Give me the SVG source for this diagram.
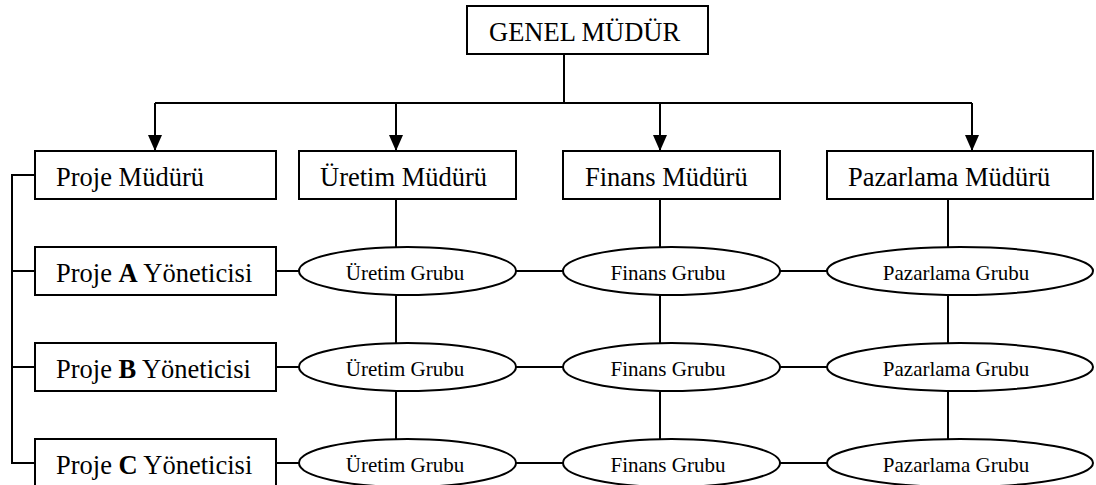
<svg xmlns="http://www.w3.org/2000/svg" width="1096" height="485" viewBox="0 0 1096 485">
<style>
.b{fill:#fff;stroke:#000;stroke-width:2}
.t{font-family:"Liberation Serif","Times New Roman",serif;font-size:26.5px;fill:#000}
.g{font-family:"Liberation Serif","Times New Roman",serif;font-size:21px;fill:#000;text-anchor:middle}
.c{fill:none;stroke:#000;stroke-width:2}
</style>
<defs>
<marker id="ah" markerUnits="userSpaceOnUse" markerWidth="16" markerHeight="14" refX="16" refY="7" orient="auto" viewBox="0 0 16 14">
<path d="M0,0 L16,7 L0,14 Z" fill="#000"/>
</marker>
</defs>
<rect width="1096" height="485" fill="#fff"/>
<g id="connectors">
<path class="c" d="M564,54 V103 M155,103 H972"/>
<path class="c" d="M155,103 V151" marker-end="url(#ah)"/>
<path class="c" d="M396,103 V151" marker-end="url(#ah)"/>
<path class="c" d="M660,103 V151" marker-end="url(#ah)"/>
<path class="c" d="M972,103 V151" marker-end="url(#ah)"/>
<path class="c" d="M35,175 H12 V463 H35 M12,271 H35 M12,367 H35"/>
<path class="c" d="M396,199 V247 M396,295 V343 M396,391 V439"/>
<path class="c" d="M660,199 V247 M660,295 V343 M660,391 V439"/>
<path class="c" d="M948,199 V247 M948,295 V343 M948,391 V439"/>
<path class="c" d="M276,271 H299 M516,271 H563 M780,271 H827"/>
<path class="c" d="M276,367 H299 M516,367 H563 M780,367 H827"/>
<path class="c" d="M276,463 H299 M516,463 H563 M780,463 H827"/>
</g>
<g id="genel"><rect class="b" x="467" y="6" width="241" height="48"/><text class="t" x="489" y="41">GENEL MÜDÜR</text></g>
<g id="projeMudur"><rect class="b" x="35" y="151" width="241" height="48"/><text class="t" x="56" y="185.5">Proje Müdürü</text></g>
<g id="uretimMudur"><rect class="b" x="299" y="151" width="217" height="48"/><text class="t" x="320" y="185.5">Üretim Müdürü</text></g>
<g id="finansMudur"><rect class="b" x="563" y="151" width="217" height="48"/><text class="t" x="585" y="185.5">Finans Müdürü</text></g>
<g id="pazarlamaMudur"><rect class="b" x="827" y="151" width="266" height="48"/><text class="t" x="848" y="185.5">Pazarlama Müdürü</text></g>
<g id="projeA"><rect class="b" x="35" y="247" width="241" height="48"/><text class="t" x="56" y="281.5">Proje <tspan font-weight="bold">A</tspan> Yöneticisi</text></g>
<g id="projeB"><rect class="b" x="35" y="343" width="241" height="48"/><text class="t" x="56" y="377.5">Proje <tspan font-weight="bold">B</tspan> Yöneticisi</text></g>
<g id="projeC"><rect class="b" x="35" y="439" width="241" height="48"/><text class="t" x="56" y="473.5">Proje <tspan font-weight="bold">C</tspan> Yöneticisi</text></g>
<g id="uretimA"><ellipse class="b" cx="407.5" cy="271" rx="108.5" ry="24"/><text class="g" x="405" y="280">Üretim Grubu</text></g>
<g id="finansA"><ellipse class="b" cx="671.5" cy="271" rx="108.5" ry="24"/><text class="g" x="668" y="280">Finans Grubu</text></g>
<g id="pazarlamaA"><ellipse class="b" cx="960" cy="271" rx="133" ry="24"/><text class="g" x="956" y="280">Pazarlama Grubu</text></g>
<g id="uretimB"><ellipse class="b" cx="407.5" cy="367" rx="108.5" ry="24"/><text class="g" x="405" y="376">Üretim Grubu</text></g>
<g id="finansB"><ellipse class="b" cx="671.5" cy="367" rx="108.5" ry="24"/><text class="g" x="668" y="376">Finans Grubu</text></g>
<g id="pazarlamaB"><ellipse class="b" cx="960" cy="367" rx="133" ry="24"/><text class="g" x="956" y="376">Pazarlama Grubu</text></g>
<g id="uretimC"><ellipse class="b" cx="407.5" cy="463" rx="108.5" ry="24"/><text class="g" x="405" y="472">Üretim Grubu</text></g>
<g id="finansC"><ellipse class="b" cx="671.5" cy="463" rx="108.5" ry="24"/><text class="g" x="668" y="472">Finans Grubu</text></g>
<g id="pazarlamaC"><ellipse class="b" cx="960" cy="463" rx="133" ry="24"/><text class="g" x="956" y="472">Pazarlama Grubu</text></g>
</svg>
